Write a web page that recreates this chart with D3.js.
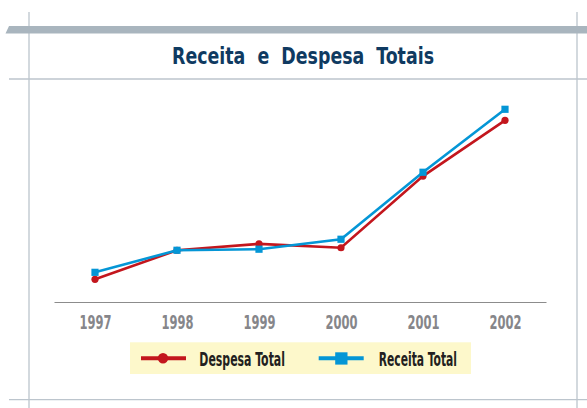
<!DOCTYPE html>
<html>
<head>
<meta charset="utf-8">
<title>Receita e Despesa Totais</title>
<script src="https://d3js.org/d3.v7.min.js"></script>
<style>
  body { margin: 0; background: #fff; }
  svg { display: block; }
</style>
</head>
<body>
<div id="chart"></div>
<script>
// data (relative units, no y axis shown)
var years = ["1997", "1998", "1999", "2000", "2001", "2002"];
var despesa = [10.7, 24.4, 27.4, 25.6, 59.4, 85.7];
var receita = [14.0, 24.4, 24.9, 29.6, 61.2, 90.9];
var seriesNames = ["Despesa Total", "Receita Total"];
var title = "Receita  e  Despesa  Totais";

var W = 587, H = 408;
var condensed = "'Liberation Sans Narrow', 'DejaVu Sans Condensed', 'Roboto Condensed', sans-serif";

var svg = d3.select("#chart").append("svg")
  .attr("width", W).attr("height", H);

// page frame
var frame = svg.append("g").attr("stroke", "#bcc5cd").attr("stroke-width", 1.3);
frame.append("line").attr("x1", 29).attr("x2", 29).attr("y1", 12).attr("y2", H);
frame.append("line").attr("x1", 577).attr("x2", 577).attr("y1", 12).attr("y2", H);
frame.append("line").attr("x1", 9).attr("x2", W).attr("y1", 79).attr("y2", 79);
frame.append("line").attr("x1", 9).attr("x2", W).attr("y1", 399.7).attr("y2", 399.7);
svg.append("path")
  .attr("d", "M9,26 L" + W + ",26 L" + W + ",33.5 L5.5,33.5 Z")
  .attr("fill", "#a9b5be");

// title
svg.append("text")
  .attr("x", 303).attr("y", 64)
  .attr("text-anchor", "middle")
  .attr("font-family", condensed)
  .attr("font-weight", "bold")
  .attr("font-size", 23)
  .attr("fill", "#0f3a61")
  .style("white-space", "pre")
  .attr("textLength", 262)
  .attr("lengthAdjust", "spacingAndGlyphs")
  .text(title);

// scales
var x = d3.scalePoint().domain(years).range([54, 546]).padding(0.5);
var y = d3.scaleLinear().domain([0, 100]).range([302, 90]);

// x axis
var xAxis = svg.append("g")
  .attr("transform", "translate(0,302)")
  .call(d3.axisBottom(x).tickSize(0).tickPadding(13));
xAxis.select(".domain").attr("stroke", "#8c8c8c").attr("stroke-width", 1.2);
xAxis.selectAll("text")
  .attr("font-family", condensed)
  .attr("font-weight", "bold")
  .attr("font-size", 20)
  .attr("fill", "#86868a")
  .attr("textLength", 32)
  .attr("lengthAdjust", "spacingAndGlyphs");

var series = [
  { name: seriesNames[0], values: despesa, color: "#c3161d", shape: "circle" },
  { name: seriesNames[1], values: receita, color: "#0496d6", shape: "square" }
];

var line = d3.line()
  .x(function(d, i) { return x(years[i]); })
  .y(function(d) { return y(d); });

series.forEach(function(s) {
  var g = svg.append("g");
  g.append("path")
    .datum(s.values)
    .attr("d", line)
    .attr("fill", "none")
    .attr("stroke", s.color)
    .attr("stroke-width", 2.6);
  if (s.shape === "circle") {
    g.selectAll("circle").data(s.values).enter().append("circle")
      .attr("cx", function(d, i) { return x(years[i]); })
      .attr("cy", function(d) { return y(d); })
      .attr("r", 3.6)
      .attr("fill", s.color);
  } else {
    g.selectAll("rect").data(s.values).enter().append("rect")
      .attr("x", function(d, i) { return x(years[i]) - 3.6; })
      .attr("y", function(d) { return y(d) - 3.6; })
      .attr("width", 7.2).attr("height", 7.2)
      .attr("fill", s.color);
  }
});

// legend
svg.append("rect")
  .attr("x", 130).attr("y", 342.3)
  .attr("width", 341).attr("height", 31.7)
  .attr("fill", "#fdf8cb");

var legX = [141, 318.7];
var legTextX = [199.3, 378.7];
var legTextW = [85.7, 78.3];
series.forEach(function(s, i) {
  var g = svg.append("g");
  g.append("line")
    .attr("x1", legX[i]).attr("x2", legX[i] + 45)
    .attr("y1", 358.3).attr("y2", 358.3)
    .attr("stroke", s.color).attr("stroke-width", 4);
  if (s.shape === "circle") {
    g.append("circle").attr("cx", legX[i] + 22).attr("cy", 358.3).attr("r", 5.2).attr("fill", s.color);
  } else {
    g.append("rect").attr("x", legX[i] + 16.5).attr("y", 352.3)
      .attr("width", 12.3).attr("height", 12.3).attr("fill", s.color);
  }
  g.append("text")
    .attr("x", legTextX[i]).attr("y", 365.7)
    .attr("font-family", condensed)
    .attr("font-weight", "bold")
    .attr("font-size", 19)
    .attr("fill", "#231f20")
    .attr("textLength", legTextW[i])
    .attr("lengthAdjust", "spacingAndGlyphs")
    .text(s.name);
});
</script>
</body>
</html>
